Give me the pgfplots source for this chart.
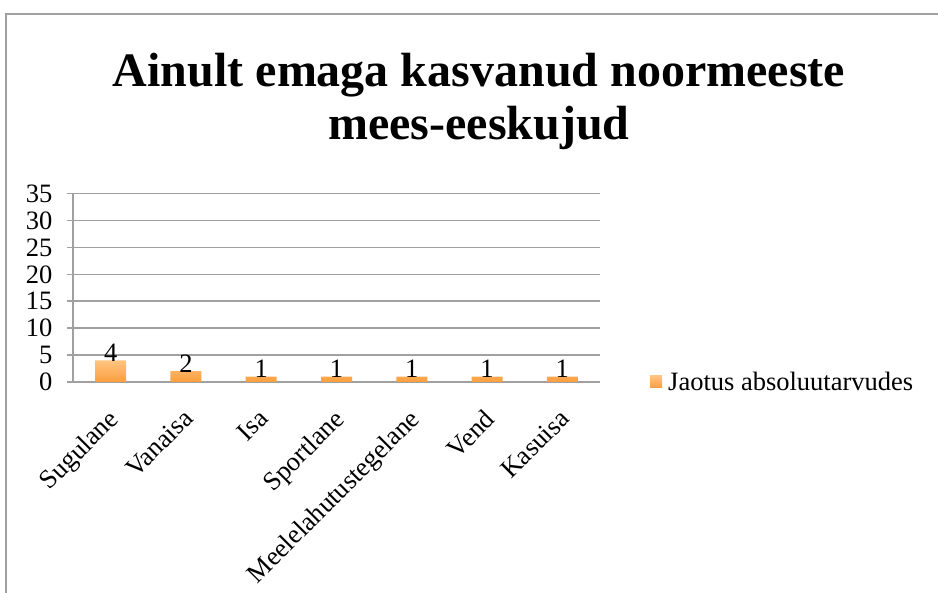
\documentclass[border=0pt]{standalone}
\usepackage{pgfplots}
\pgfplotsset{compat=1.18}
\usepackage{fontspec}
\setmainfont{Liberation Serif}
\definecolor{gridgray}{RGB}{160,160,160}
\definecolor{bartop}{RGB}{255,196,128}
\definecolor{barbot}{RGB}{250,158,62}
\begin{document}
\begin{tikzpicture}[x=1pt,y=1pt]
\useasboundingbox (0,0) rectangle (938,593);
\draw[gridgray, line width=1.5pt] (6,-10) -- (6,579) -- (960,579);
\node[anchor=base, font=\fontsize{48}{55}\selectfont\bfseries] at (479,506) {Ainult emaga kasvanud noormeeste};
\node[anchor=base, font=\fontsize{48}{55}\selectfont\bfseries] at (479,453) {mees-eeskujud};
\begin{axis}[
  at={(73pt,211pt)}, anchor=origin,
  scale only axis, width=527pt, height=188.4pt,
  xmin=0, xmax=7, ymin=0, ymax=35,
  axis lines=left, axis line style={-, gridgray, line width=1.5pt},
  ytick={0,5,...,35},
  ymajorgrids, grid style={gridgray, line width=1.5pt},
  xtick={0.5,1.5,...,6.5},
  xticklabels={Sugulane,Vanaisa,Isa,Sportlane,Meelelahutustegelane,Vend,Kasuisa},
  minor xtick={0,...,7},
  tick align=outside,
  major tick length=6pt, minor tick length=8pt,
  xtick style={draw=none},
  ytick style={gridgray, line width=1.5pt},
  minor tick style={gridgray, line width=1.5pt},
  tick label style={font=\fontsize{26.5}{30}\selectfont},
  /pgf/number format/assume math mode=true,
  yticklabel style={xshift=-11pt},
  xticklabel style={xshift=-4pt, yshift=-15pt, rotate=45, anchor=north east},
  ybar, bar width=31pt,
  nodes near coords,
  every node near coord/.append style={font=\fontsize{26.5}{30}\selectfont, black, inner sep=0pt, yshift=-1pt},
  legend style={at={(rel axis cs:1,0)}, anchor=west, xshift=47pt, draw=none, fill=none, font=\fontsize{26.5}{30}\selectfont},
  legend image code/.code={\fill[top color=bartop, bottom color=barbot] (0pt,-6pt) rectangle (12pt,6pt); \path (16pt,0pt);},
  clip=false,
]
\addplot[draw=none, top color=bartop, bottom color=barbot] coordinates {(0.5,4) (1.5,2) (2.5,1) (3.5,1) (4.5,1) (5.5,1) (6.5,1)};
\addlegendentry{Jaotus absoluutarvudes}
\end{axis}
\end{tikzpicture}
\end{document}
